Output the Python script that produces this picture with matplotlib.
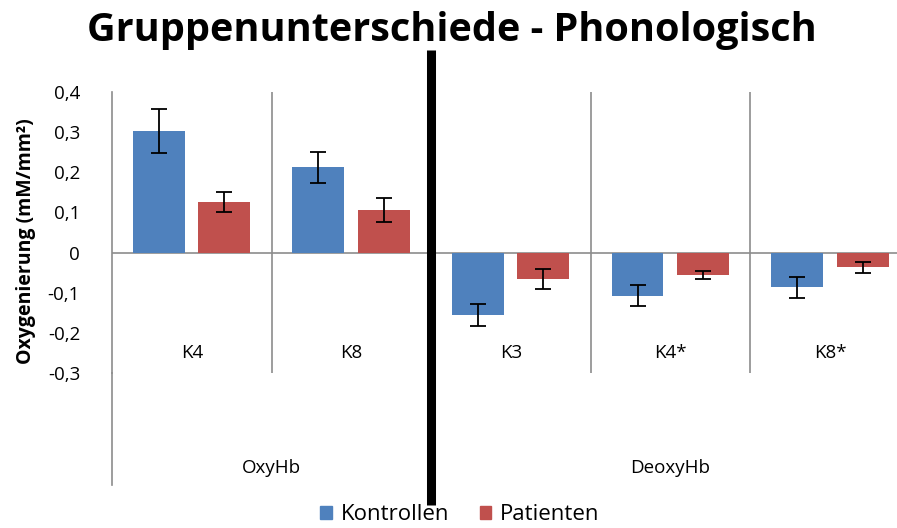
import numpy as np
import matplotlib
matplotlib.use('Agg')
import matplotlib.pyplot as plt
from matplotlib.patches import Patch

plt.rcParams['font.family'] = ['Open Sans', 'DejaVu Sans']

# data
categories = ['K4', 'K8', 'K3', 'K4*', 'K8*']
groups = ['OxyHb', 'DeoxyHb']
group_spans = [(0, 1), (2, 4)]
kontrollen = [0.302, 0.212, -0.156, -0.107, -0.087]
kontrollen_err = [0.055, 0.038, 0.028, 0.027, 0.025]
patienten = [0.126, 0.107, -0.066, -0.057, -0.037]
patienten_err = [0.025, 0.030, 0.024, 0.010, 0.013]
yticks = [0.4, 0.3, 0.2, 0.1, 0, -0.1, -0.2, -0.3]

blue = '#4F81BD'
red = '#C0504D'
gray = '#8C8C8C'

W, H = 897, 528
fig = plt.figure(figsize=(W / 100, H / 100), dpi=100)
# plot area in pixels: x 112..910, y 92..373
ax = fig.add_axes([112 / W, 1 - 373 / H, (910 - 112) / W, (373 - 92) / H])

x = np.arange(len(categories))
bw = 0.325
ax.bar(x - 0.207, kontrollen, bw, color=blue, zorder=3)
ax.bar(x + 0.203, patienten, bw, color=red, zorder=3)
ax.errorbar(x - 0.207, kontrollen, yerr=kontrollen_err, fmt='none', ecolor='black',
            elinewidth=1.3, capsize=6, capthick=1.3, zorder=4)
ax.errorbar(x + 0.203, patienten, yerr=patienten_err, fmt='none', ecolor='black',
            elinewidth=1.3, capsize=6, capthick=1.3, zorder=4)

ax.set_xlim(-0.5, len(categories) - 0.5)
ax.set_ylim(-0.3, 0.4)
ax.set_yticks(yticks)
ax.set_yticklabels([('%g' % t).replace('.', ',') for t in yticks], fontsize=13.5)
ax.tick_params(axis='y', length=0, pad=23)
ax.set_xticks([])

for s in ['top', 'right', 'bottom']:
    ax.spines[s].set_visible(False)
ax.spines['left'].set_color(gray)
ax.spines['left'].set_linewidth(1.2)

# zero line and category separators
ax.axhline(0, color=gray, lw=1.2, zorder=2)
for xv in [0.5, 2.5, 3.5]:
    ax.axvline(xv, color=gray, lw=1.2, zorder=1)

tr = ax.get_xaxis_transform()
# extend left axis line down through group label row
ax.plot([-0.5, -0.5], [0, -0.399], color=gray, lw=1.2, transform=tr, clip_on=False)

for i, c in enumerate(categories):
    ax.text(i, 0.071, c, transform=tr, ha='center', va='center', fontsize=13.5)
for g, (a, b) in zip(groups, group_spans):
    ax.text((a + b) / 2, -0.338, g, transform=tr, ha='center', va='center', fontsize=13.5)

# thick black divider between OxyHb and DeoxyHb
ax.plot([1.5, 1.5], [(373 - 50) / 281, (373 - 505) / 281], color='black', lw=6.5,
        transform=tr, clip_on=False, solid_capstyle='butt', zorder=5)

fig.text(452 / W, 1 - 31 / H, 'Gruppenunterschiede - Phonologisch', ha='center', va='center',
         fontsize=28.5, fontweight='bold')
fig.text(26 / W, 1 - 241 / H, 'Oxygenierung (mM/mm²)', rotation=90, ha='center', va='center',
         fontsize=14, fontweight='bold')

handles = [Patch(color=blue, label='Kontrollen'), Patch(color=red, label='Patienten')]
fig.legend(handles=handles, loc='center', bbox_to_anchor=(460 / W, 1 - 515 / H), ncol=2,
           frameon=False, fontsize=16, handlelength=0.5, handleheight=0.5, handletextpad=0.4,
           columnspacing=1.4)

fig.savefig('out.png', dpi=100)
